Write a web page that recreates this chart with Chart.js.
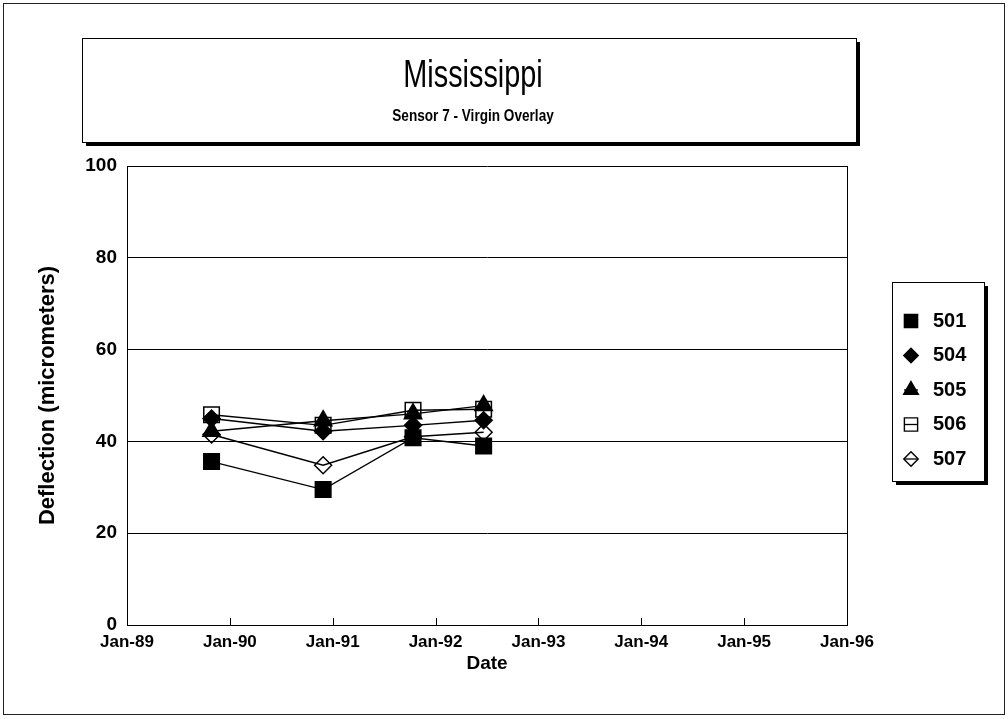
<!DOCTYPE html>
<html>
<head>
<meta charset="utf-8">
<title>Mississippi - Sensor 7</title>
<script src="https://cdn.jsdelivr.net/npm/chart.js@4.4.1/dist/chart.umd.min.js"></script>
<style>
    html, body { margin: 0; padding: 0; background: #fff; }
    #deflection-chart-container { position: relative; width: 1008px; height: 719px; }
</style>
</head>
<body>
<div id="deflection-chart-container">
    <canvas id="deflection-chart" width="1008" height="719"></canvas>
</div>
<script>
// survey dates and deflections per test section
const surveyDates = ['1989-10-28', '1990-11-28', '1991-10-13', '1992-06-20'];
const sectionNames = ['501', '504', '505', '506', '507'];
const deflection501 = [35.6, 29.5, 40.8, 39.0];
const deflection504 = [45.0, 42.2, 43.5, 44.6];
const deflection505 = [42.2, 44.5, 46.0, 47.8];
const deflection506 = [45.8, 43.5, 46.8, 47.0];
const deflection507 = [41.5, 34.8, 41.0, 42.0];
const yearTicks = [1989, 1990, 1991, 1992, 1993, 1994, 1995, 1996];
const deflectionTicks = [0, 20, 40, 60, 80, 100];

const FONT = "'Liberation Sans', Arial, sans-serif";

/**
 * date string -> fractional year
 * @param s
 */
function toYear(s) {
    const d = new Date(s + 'T00:00:00Z');
    const y = d.getUTCFullYear();
    const start = Date.UTC(y, 0, 1);
    const end = Date.UTC(y + 1, 0, 1);
    return y + (d.getTime() - start) / (end - start);
}

function toPoints(values) {
    return values.map(function (v, i) {
        return {x: toYear(surveyDates[i]), y: v};
    });
}

const markerStyles = {
    '501': {pointStyle: 'rect', radius: 11, fill: '#000'},
    '504': {pointStyle: 'rectRot', radius: 8.5, fill: '#000'},
    '505': {pointStyle: 'triangle', radius: 10, fill: '#000'},
    '506': {pointStyle: 'rect', radius: 11, fill: 'rgba(0,0,0,0)'},
    '507': {pointStyle: 'rectRot', radius: 8.5, fill: 'rgba(0,0,0,0)'}
};

const seriesValues = [deflection501, deflection504, deflection505, deflection506, deflection507];

const datasets = sectionNames.map(function (name, i) {
    const m = markerStyles[name];
    return {
        label: name,
        data: toPoints(seriesValues[i]),
        borderColor: '#000',
        borderWidth: 1.4,
        pointStyle: m.pointStyle,
        pointRadius: m.radius,
        pointHoverRadius: m.radius,
        pointBackgroundColor: m.fill,
        pointBorderColor: '#000',
        pointBorderWidth: 1.5,
        fill: false,
        tension: 0
    };
});

/**
 * text squeezed horizontally around its centre
 */
function narrowText(ctx, text, x, y, font, sx) {
    ctx.save();
    ctx.font = font;
    ctx.translate(x, y);
    ctx.scale(sx, 1);
    ctx.fillText(text, 0, 0);
    ctx.restore();
}

// boxes, frame, title and legend drawn around the plot
const decorations = {
    id: 'decorations',
    beforeDraw: function (chart) {
        const ctx = chart.ctx;
        ctx.save();
        ctx.fillStyle = '#fff';
        ctx.fillRect(0, 0, chart.width, chart.height);
        ctx.restore();
    },
    afterDraw: function (chart) {
        const ctx = chart.ctx;
        const area = chart.chartArea;
        const xScale = chart.scales.x;
        ctx.save();

        // outer border
        ctx.strokeStyle = '#222';
        ctx.lineWidth = 1;
        ctx.strokeRect(3.5, 3.5, chart.width - 7, chart.height - 8);

        // right side of plot frame
        ctx.strokeStyle = '#000';
        ctx.beginPath();
        ctx.moveTo(Math.round(area.right) + 0.5, area.top);
        ctx.lineTo(Math.round(area.right) + 0.5, area.bottom);
        ctx.stroke();

        // inside tick marks on the date axis
        ctx.beginPath();
        yearTicks.slice(1, -1).forEach(function (yr) {
            const px = Math.round(xScale.getPixelForValue(yr)) + 0.5;
            ctx.moveTo(px, area.bottom);
            ctx.lineTo(px, area.bottom - 7);
        });
        ctx.stroke();

        // title box with shadow
        const tb = {x: 82, y: 38, w: 774, h: 104};
        ctx.fillStyle = '#000';
        ctx.fillRect(tb.x + tb.w, tb.y + 4, 4, tb.h);
        ctx.fillRect(tb.x + 4, tb.y + tb.h, tb.w, 4);
        ctx.strokeRect(tb.x + 0.5, tb.y + 0.5, tb.w, tb.h);

        ctx.textAlign = 'center';
        ctx.textBaseline = 'middle';
        narrowText(ctx, 'Mississippi', 473, 76, '39px ' + FONT, 0.74);
        narrowText(ctx, 'Sensor 7 - Virgin Overlay', 473, 116, 'bold 17px ' + FONT, 0.8);

        // legend box with shadow
        const lb = {x: 892, y: 282, w: 92, h: 199};
        ctx.fillRect(lb.x + lb.w, lb.y + 4, 4, lb.h);
        ctx.fillRect(lb.x + 4, lb.y + lb.h, lb.w, 4);
        ctx.strokeRect(lb.x + 0.5, lb.y + 0.5, lb.w, lb.h);

        ctx.textAlign = 'left';
        ctx.font = 'bold 20px ' + FONT;
        chart.data.datasets.forEach(function (ds, i) {
            const cy = 321 + i * 34.5;
            const cx = 911;
            ctx.strokeStyle = '#000';
            ctx.lineWidth = 1.3;
            ctx.beginPath();
            ctx.moveTo(cx - 7, cy);
            ctx.lineTo(cx + 7, cy);
            ctx.stroke();
            ctx.fillStyle = ds.pointBackgroundColor;
            ctx.lineWidth = 1.4;
            Chart.helpers.drawPoint(ctx, {
                pointStyle: ds.pointStyle,
                rotation: 0,
                radius: ds.pointRadius * 0.85,
                borderWidth: 1.4
            }, cx, cy);
            ctx.fillStyle = '#000';
            ctx.fillText(ds.label, 933, cy);
        });

        ctx.restore();
    }
};

new Chart(document.querySelector('#deflection-chart').getContext('2d'), {
    type: 'line',
    data: {datasets: datasets},
    plugins: [decorations],
    options: {
        responsive: false,
        animation: false,
        maintainAspectRatio: false,
        layout: {padding: {left: 0, top: 166, right: 161, bottom: 0}},
        plugins: {
            legend: {display: false},
            title: {display: false},
            tooltip: {enabled: false}
        },
        scales: {
            x: {
                type: 'linear',
                min: yearTicks[0],
                max: yearTicks[yearTicks.length - 1],
                afterFit: function (scale) { scale.height = 94; },
                afterBuildTicks: function (scale) {
                    scale.ticks = yearTicks.map(function (v) { return {value: v}; });
                },
                grid: {display: false, drawTicks: false},
                border: {display: true, color: '#000', width: 1},
                ticks: {
                    color: '#000',
                    padding: 7,
                    maxRotation: 0,
                    autoSkip: false,
                    font: {family: FONT, size: 17, weight: 'bold', lineHeight: 1.2},
                    callback: function (v) { return 'Jan-' + String(v).slice(2); }
                },
                title: {
                    display: true,
                    text: 'Date',
                    color: '#000',
                    padding: {top: 0, bottom: 44},
                    font: {family: FONT, size: 19, weight: 'bold', lineHeight: 1.2}
                }
            },
            y: {
                min: 0,
                max: 100,
                afterFit: function (scale) { scale.width = 127; },
                afterBuildTicks: function (scale) {
                    scale.ticks = deflectionTicks.map(function (v) { return {value: v}; });
                },
                grid: {color: '#000', lineWidth: 1, drawTicks: false},
                border: {display: true, color: '#000', width: 1},
                ticks: {
                    color: '#000',
                    padding: 10,
                    font: {family: FONT, size: 19, weight: 'bold', lineHeight: 1.2},
                },
                title: {
                    display: true,
                    text: 'Deflection (micrometers)',
                    color: '#000',
                    padding: {top: 35, bottom: 0},
                    font: {family: FONT, size: 22, weight: 'bold', lineHeight: 1.2}
                }
            }
        }
    }
});
</script>
</body>
</html>
